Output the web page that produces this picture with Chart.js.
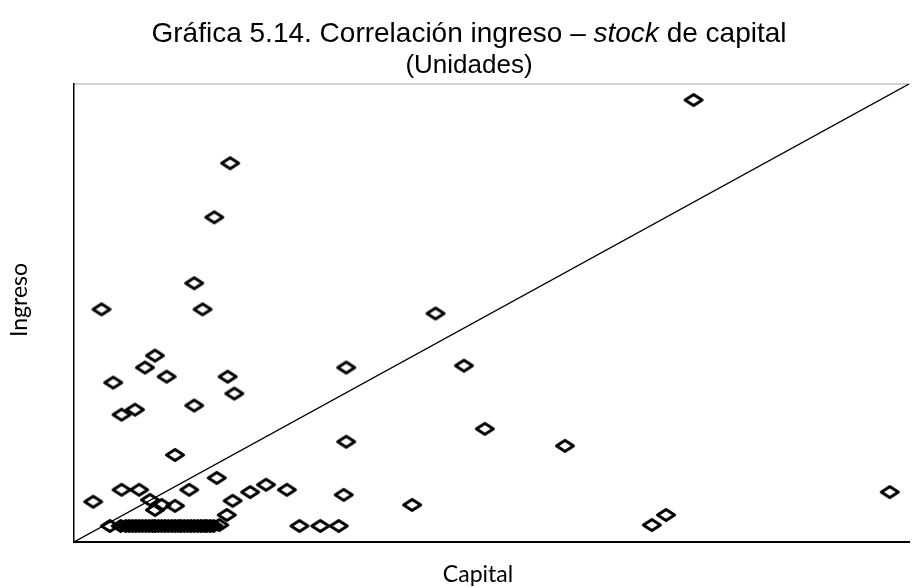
<!DOCTYPE html>
<html>
<head>
<meta charset="utf-8">
<script src="https://cdn.jsdelivr.net/npm/chart.js@4.4.1/dist/chart.umd.min.js"></script>
<style>
  body { margin: 0; background: #fff; }
  #wrap { position: relative; width: 914px; height: 587px; }
  #title { position: absolute; left: 24px; top: 18px; width: 890px; text-align: center;
           font-family: "Liberation Sans", Arial, sans-serif; color: #000; }
  #title .t1 { font-size: 28px; line-height: 30px; }
  #title .t2 { font-size: 26px; line-height: 30px; margin-top: 1px; }
  .axt { position: absolute; font-family: Lato, sans-serif; font-size: 23px; line-height: 28px;
         color: #000; width: 120px; text-align: center; }
  #xt { left: 418px; top: 559px; }
  #yt { left: -42px; top: 286px; transform: rotate(-90deg); }
</style>
</head>
<body>
<div id="wrap">
  <canvas id="myChart"></canvas>
  <div id="title">
    <div class="t1">Gráfica 5.14. Correlación ingreso – <i>stock</i> de capital</div>
    <div class="t2">(Unidades)</div>
  </div>
  <div class="axt" id="xt">Capital</div>
  <div class="axt" id="yt">Ingreso</div>
</div>
<script>
// capital (x) and ingreso (y), both axes 0-100
const capital = [
  74.2, 18.7, 16.8, 14.4, 3.3, 15.4, 43.3, 9.7, 8.5, 11.1,
  4.7, 18.4, 19.2, 32.6, 46.7, 5.7, 7.3, 14.4, 49.2, 32.6,
  58.8, 12.1, 97.7, 70.9, 69.2, 40.5, 32.3, 31.7, 29.5, 27.0,
  2.3, 5.7, 7.8, 9.1, 9.7, 10.5, 12.1, 13.8, 17.1, 19.0,
  21.1, 23.0, 25.5, 18.3, 17.4,
  // the dense row along the bottom
  4.3, 5.6, 6.2, 6.6, 7.0, 7.4, 7.8, 8.2, 8.6, 9.0,
  9.4, 9.7, 10.1, 10.5, 10.9, 11.3, 11.7, 12.1, 12.5, 12.8,
  13.2, 13.6, 14.0, 14.4, 14.8, 15.2, 15.6, 15.9, 16.3, 16.7
];
const ingreso = [
  96.5, 82.7, 70.9, 56.5, 50.8, 50.8, 49.9, 40.7, 38.1, 36.1,
  34.8, 36.1, 32.4, 38.1, 38.5, 27.8, 28.9, 29.8, 24.7, 21.9,
  21.0, 19.0, 10.9, 5.9, 3.7, 8.1, 10.3, 3.5, 3.5, 3.5,
  8.8, 11.4, 11.4, 9.2, 7.0, 8.1, 7.9, 11.4, 14.0, 9.0,
  10.9, 12.5, 11.4, 5.9, 3.7,
  3.5, 3.5, 3.5, 3.5, 3.5, 3.5, 3.5, 3.5, 3.5, 3.5,
  3.5, 3.5, 3.5, 3.5, 3.5, 3.5, 3.5, 3.5, 3.5, 3.5,
  3.5, 3.5, 3.5, 3.5, 3.5, 3.5, 3.5, 3.5, 3.5, 3.5
];
// 45 degree reference line
const lineX = [0, 100];
const lineY = [0, 100];

// flat open diamond marker
function diamond() {
  const c = document.createElement('canvas');
  c.width = 22; c.height = 16;
  const g = c.getContext('2d');
  g.strokeStyle = '#000';
  g.lineWidth = 3;
  g.lineJoin = 'round';
  g.beginPath();
  g.moveTo(2.5, 8); g.lineTo(11, 2.5); g.lineTo(19.5, 8); g.lineTo(11, 13.5);
  g.closePath();
  g.stroke();
  return c;
}

const points = capital.map((x, i) => ({ x: x, y: ingreso[i] }));
const diag = lineX.map((x, i) => ({ x: x, y: lineY[i] }));

new Chart(document.getElementById('myChart'), {
  type: 'scatter',
  data: {
    datasets: [{
      data: points,
      pointStyle: diamond(),
      borderColor: '#000',
      backgroundColor: 'rgba(0,0,0,0)'
    }, {
      data: diag,
      showLine: true,
      pointRadius: 0,
      borderColor: '#000',
      borderWidth: 1.3,
      fill: false
    }]
  },
  options: {
    responsive: true,
    maintainAspectRatio: false,
    animation: false,
    layout: { padding: { top: 84, right: 2, left: 74, bottom: 45 } },
    scales: {
      x: {
        type: 'linear', min: 0, max: 100, position: 'bottom',
        grid: { display: false, drawTicks: false },
        ticks: { display: false },
        border: { color: '#000', width: 2 }
      },
      xTop: {
        type: 'linear', min: 0, max: 100, position: 'top',
        grid: { display: false, drawTicks: false },
        ticks: { display: false },
        border: { color: '#d0d0d0', width: 2 }
      },
      y: {
        type: 'linear', min: 0, max: 100,
        grid: { display: false, drawTicks: false },
        ticks: { display: false },
        border: { color: '#000', width: 1.5 }
      }
    },
    plugins: {
      legend: { display: false },
      tooltip: { enabled: false }
    }
  }
});
</script>
</body>
</html>
